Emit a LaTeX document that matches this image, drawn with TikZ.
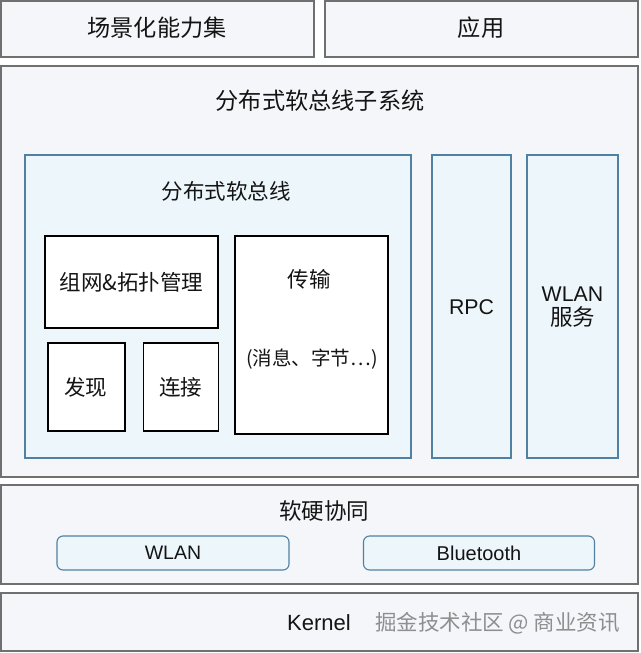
\documentclass[tikz,border=0pt]{standalone}
\usepackage{fontspec}
\setmainfont{Liberation Sans}
\newfontfamily\cjk{Noto Sans CJK SC}
\definecolor{outerfill}{HTML}{F4F6FA}
\definecolor{outerdraw}{HTML}{707070}
\definecolor{bluefill}{HTML}{EDF6FB}
\definecolor{bluedraw}{HTML}{5080A2}
\definecolor{wm}{HTML}{8E8E8E}
\tikzset{
  outerbox/.style={draw=outerdraw, fill=outerfill, line width=1.4pt, inner sep=0pt},
  bluebox/.style={draw=bluedraw, fill=bluefill, line width=1.1pt, inner sep=0pt},
  whitebox/.style={draw=black, fill=white, line width=1.1pt, inner sep=0pt},
  pill/.style={draw=bluedraw, fill=bluefill, line width=1.1pt, rounded corners=6pt, inner sep=0pt},
  zh/.style={font=\cjk\fontsize{23.2}{27}\selectfont, text=black!92, inner sep=0pt},
  zhs/.style={font=\cjk\fontsize{21.5}{25}\selectfont, text=black!92, inner sep=0pt},
  en/.style={font=\fontsize{21.3}{25}\selectfont, text=black!92, inner sep=0pt},
}
\begin{document}
\begin{tikzpicture}[x=1pt,y=-1pt]
\useasboundingbox[fill=white] (0,0) rectangle (640,653);
% top row
\node[outerbox, minimum width=313pt, minimum height=56pt] (scene) at (157.5,29) {};
\node[zh] (sceneT) at (157,28) {场景化能力集};
\node[outerbox, minimum width=313pt, minimum height=56pt] (app) at (481.5,29) {};
\node[zh] (appT) at (481,28) {应用};
% main subsystem
\node[outerbox, minimum width=637pt, minimum height=411pt] (sub) at (319.5,271.5) {};
\node[zh] (subT) at (320,101) {分布式软总线子系统};
% soft bus
\node[bluebox, minimum width=386pt, minimum height=303pt] (bus) at (218,306.5) {};
\node[zhs] (busT) at (226,191) {分布式软总线};
\node[whitebox, minimum width=173pt, minimum height=92pt] (net) at (131.5,282) {};
\node[zhs] (netT) at (131.5,282) {组网\&拓扑管理};
\node[whitebox, minimum width=77pt, minimum height=88pt] (disc) at (86.5,387) {};
\node[zhs] (discT) at (85.5,387) {发现};
\node[whitebox, minimum width=75pt, minimum height=88pt] (conn) at (181,387) {};
\node[zhs] (connT) at (180.5,387) {连接};
\node[whitebox, minimum width=153pt, minimum height=198pt] (trans) at (311.5,335) {};
\node[zhs] (transT) at (309,279) {传输};
\node[zh, font=\cjk\fontsize{19.5}{24}\selectfont] (transS) at (312,359) {(消息、字节…)};
% RPC and WLAN service
\node[bluebox, minimum width=79pt, minimum height=303pt] (rpc) at (471.5,306.5) {};
\node[en] (rpcT) at (471.5,307) {RPC};
\node[bluebox, minimum width=91pt, minimum height=303pt] (wsvc) at (572.5,306.5) {};
\node[en, align=center] (wsvcT) at (572.5,307) {WLAN\\[-1pt]{\cjk\fontsize{22.5}{27}\selectfont 服务}};
% hw/sw coordination
\node[outerbox, minimum width=637pt, minimum height=99pt] (hw) at (319.5,534.5) {};
\node[zh, font=\cjk\fontsize{22.5}{26}\selectfont] (hwT) at (324,511) {软硬协同};
\node[pill, minimum width=232pt, minimum height=34pt] (wlan) at (173,553) {};
\node[en, font=\fontsize{19.5}{24}\selectfont] (wlanT) at (173,553) {WLAN};
\node[pill, minimum width=231pt, minimum height=34pt] (bt) at (479,553) {};
\node[en, font=\fontsize{20}{24}\selectfont] (btT) at (479,553) {Bluetooth};
% kernel
\node[outerbox, minimum width=637pt, minimum height=58pt] (kern) at (319.5,622) {};
\node[en, font=\fontsize{22}{26}\selectfont] (kernT) at (319,623) {Kernel};
\node[zh, text=wm, font=\cjk\fontsize{21.5}{25}\selectfont] (wmT) at (497.5,623) {掘金技术社区 @ 商业资讯};
\end{tikzpicture}
\end{document}
